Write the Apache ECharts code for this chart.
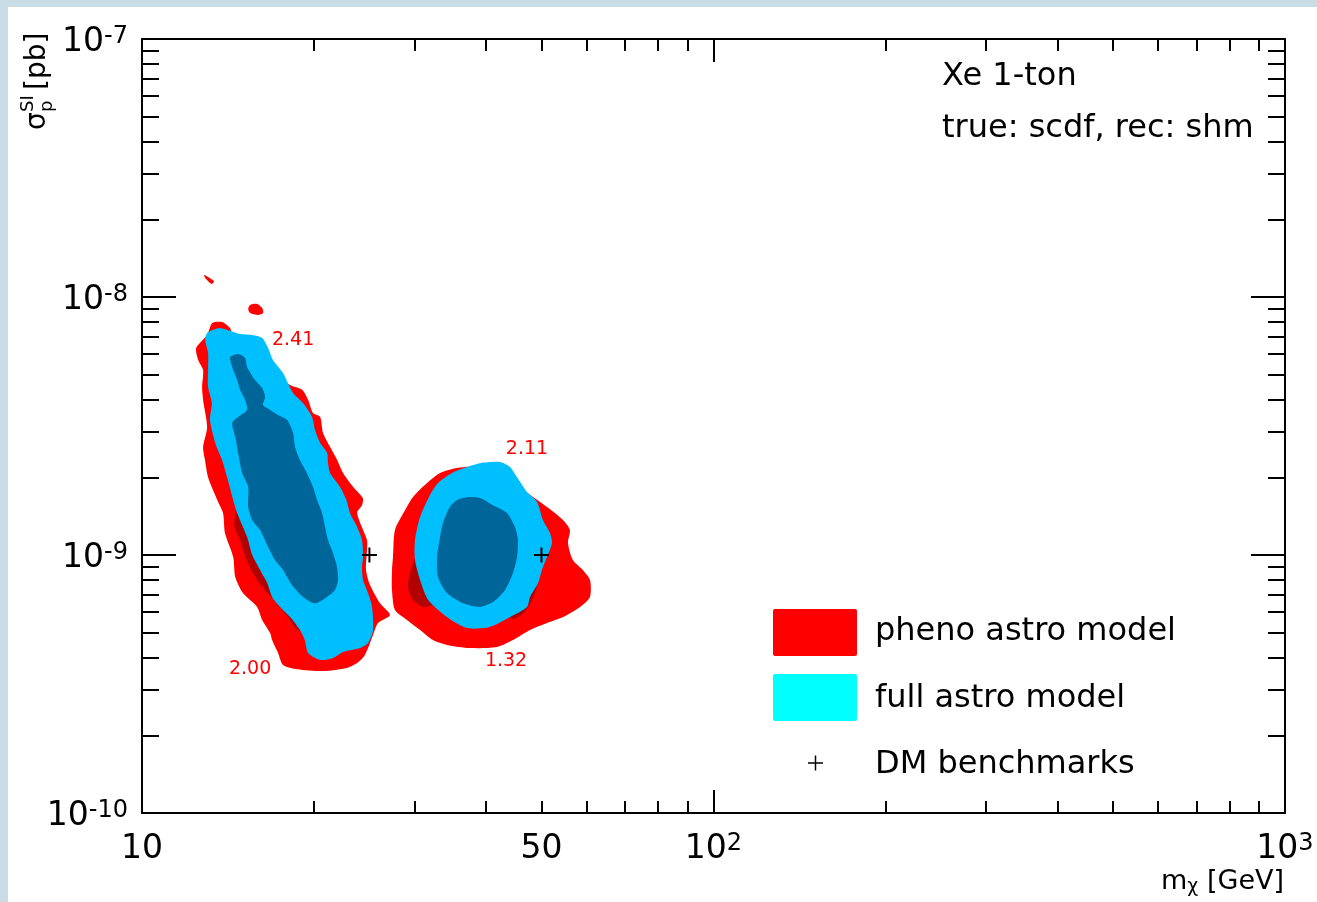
<!DOCTYPE html>
<html>
<head>
<meta charset="utf-8">
<title>Xe 1-ton: true scdf, rec shm</title>
<script src="https://cdn.jsdelivr.net/npm/echarts@6/dist/echarts.min.js"></script>
<style>
  html, body { margin: 0; padding: 0; background: #ffffff; }
  #edgeTop { position: absolute; left: 0; top: 0; width: 1317px; height: 7px; background: #c9dbe5; }
  #edgeLeft { position: absolute; left: 0; top: 0; width: 8px; height: 902px; background: #c9dbe5; }
  #chart { position: absolute; left: 0; top: 0; width: 1317px; height: 902px; }
</style>
</head>
<body>
<div id="edgeTop"></div>
<div id="edgeLeft"></div>
<div id="chart"></div>
<script>
// ---- axis ticks (WIMP mass in GeV, SI cross-section in pb) ----
const massTicksMajor = [10, 100, 1000];
const massTicksMinor = [20, 30, 40, 50, 60, 70, 80, 90, 200, 300, 400, 500, 600, 700, 800, 900];
const massTickLabels = [10, 50, 100, 1000];
const xsecTicksMajor = [1e-10, 1e-9, 1e-8, 1e-7];
const xsecTicksMinor = [2e-10, 3e-10, 4e-10, 5e-10, 6e-10, 7e-10, 8e-10, 9e-10,
                        2e-9, 3e-9, 4e-9, 5e-9, 6e-9, 7e-9, 8e-9, 9e-9,
                        2e-8, 3e-8, 4e-8, 5e-8, 6e-8, 7e-8, 8e-8, 9e-8];

// ---- credible regions, [mass (GeV), sigma_p^SI (pb)] ----
// pheno astro model, outer region, low-mass solution
const phenoOuterLow = [
  [12.44, 6.34e-9], [13.0, 7.12e-9], [13.27, 7.93e-9], [13.81, 8.0e-9], [14.26, 7.58e-9], [14.38, 7.25e-9],
  [15.46, 6.51e-9], [16.62, 5.70e-9], [17.44, 4.90e-9], [18.16, 4.56e-9], [19.06, 4.37e-9], [19.53, 3.99e-9],
  [19.92, 3.55e-9], [20.5, 3.43e-9], [20.74, 2.97e-9], [21.34, 2.62e-9], [21.94, 2.34e-9], [22.48, 2.08e-9],
  [23.4, 1.84e-9], [24.35, 1.66e-9], [24.26, 1.56e-9], [23.79, 1.46e-9], [24.26, 1.28e-9], [24.76, 1.14e-9],
  [24.76, 1.05e-9], [24.66, 0.875e-9], [25.06, 0.765e-9], [26.09, 0.65e-9], [27.16, 0.585e-9], [25.88, 0.545e-9],
  [25.37, 0.49e-9], [24.55, 0.41e-9], [23.79, 0.381e-9], [22.84, 0.365e-9], [20.74, 0.355e-9], [18.7, 0.361e-9],
  [17.65, 0.375e-9], [17.3, 0.417e-9], [16.89, 0.468e-9], [16.76, 0.498e-9], [16.23, 0.56e-9], [15.9, 0.629e-9],
  [15.02, 0.712e-9], [14.56, 0.822e-9], [14.44, 0.982e-9], [13.97, 1.217e-9], [13.86, 1.455e-9], [13.54, 1.634e-9],
  [13.05, 2.0e-9], [12.89, 2.33e-9], [12.79, 2.62e-9], [13.0, 3.13e-9], [12.79, 3.99e-9], [12.74, 4.48e-9],
  [12.79, 5.21e-9], [12.54, 5.70e-9]
];
// pheno astro model, outer region, high-mass solution
const phenoOuterHigh = [
  [27.49, 0.982e-9], [27.71, 1.25e-9], [28.85, 1.49e-9], [29.8, 1.678e-9], [31.53, 1.901e-9], [33.23, 2.08e-9],
  [35.58, 2.174e-9], [38.0, 2.193e-9], [42.31, 2.04e-9], [48.33, 1.678e-9], [51.13, 1.535e-9], [54.53, 1.367e-9],
  [56.07, 1.25e-9], [55.63, 1.113e-9], [56.75, 0.956e-9], [59.07, 0.875e-9], [60.8, 0.80e-9], [60.8, 0.688e-9],
  [58.4, 0.629e-9], [54.53, 0.575e-9], [51.13, 0.545e-9], [47.75, 0.512e-9], [44.59, 0.468e-9], [41.79, 0.44e-9],
  [37.49, 0.436e-9], [34.17, 0.448e-9], [32.3, 0.468e-9], [30.66, 0.512e-9], [29.08, 0.56e-9], [27.71, 0.612e-9],
  [27.38, 0.732e-9], [27.38, 0.875e-9]
];
// pheno astro model, small isolated islands
const phenoIslandA = [[12.84, 1.217e-8], [13.36, 1.153e-8], [13.25, 1.123e-8], [12.94, 1.174e-8]];
const phenoIslandB = [[15.46, 9.31e-9], [15.9, 9.40e-9], [16.23, 9.07e-9], [16.29, 8.67e-9], [15.96, 8.52e-9],
                      [15.46, 8.67e-9], [15.34, 8.98e-9]];
// pheno astro model, inner region
const phenoInnerLow = [
  [13.97, 3.34e-9], [15.46, 4.77e-9], [18.16, 3.05e-9], [21.34, 1.367e-9], [23.12, 0.669e-9], [22.21, 0.512e-9],
  [18.75, 0.512e-9], [18.0, 0.575e-9], [17.3, 0.64e-9], [16.82, 0.688e-9], [16.23, 0.751e-9], [15.59, 0.86e-9],
  [15.15, 0.991e-9], [14.85, 1.143e-9], [14.5, 1.307e-9], [14.85, 1.953e-9]
];
const phenoInnerHigh = [
  [31.91, 1.367e-9], [30.16, 1.0e-9], [29.44, 0.852e-9], [29.2, 0.751e-9], [29.8, 0.669e-9], [31.03, 0.629e-9],
  [32.57, 0.64e-9], [39.03, 0.585e-9], [43.18, 0.601e-9], [44.41, 0.565e-9], [45.86, 0.58e-9], [47.17, 0.618e-9],
  [48.33, 0.681e-9], [49.32, 0.80e-9], [47.75, 1.25e-9], [39.03, 1.786e-9]
];
// full astro model, outer region
const fullOuterLow = [
  [13.0, 7.25e-9], [13.3, 7.45e-9], [13.7, 7.58e-9], [14.85, 7.19e-9], [15.59, 7.12e-9], [16.23, 6.93e-9],
  [16.62, 6.34e-9], [16.95, 5.70e-9], [17.65, 5.08e-9], [18.0, 4.64e-9], [18.38, 4.25e-9], [19.13, 3.88e-9],
  [19.84, 3.43e-9], [20.08, 3.05e-9], [20.5, 2.72e-9], [21.08, 2.49e-9], [21.16, 2.27e-9], [21.34, 2.08e-9],
  [22.21, 1.835e-9], [22.78, 1.634e-9], [23.12, 1.455e-9], [23.79, 1.284e-9], [24.26, 1.143e-9], [24.37, 0.982e-9],
  [24.26, 0.898e-9], [24.37, 0.80e-9], [24.86, 0.712e-9], [25.27, 0.629e-9], [25.37, 0.512e-9], [24.86, 0.456e-9],
  [24.07, 0.436e-9], [22.48, 0.421e-9], [21.59, 0.399e-9], [20.5, 0.392e-9], [19.53, 0.417e-9], [19.27, 0.468e-9],
  [18.9, 0.512e-9], [18.16, 0.575e-9], [17.44, 0.629e-9], [16.89, 0.688e-9], [16.56, 0.779e-9], [16.09, 0.875e-9],
  [15.59, 1.0e-9], [15.27, 1.174e-9], [14.67, 1.455e-9], [14.44, 1.634e-9], [14.09, 2.0e-9], [13.81, 2.33e-9],
  [13.43, 2.72e-9], [13.15, 3.34e-9], [13.25, 3.88e-9], [13.05, 4.48e-9], [13.05, 5.21e-9], [13.05, 6.07e-9],
  [12.9, 6.81e-9]
];
const fullOuterHigh = [
  [31.91, 1.709e-9], [32.96, 1.901e-9], [34.86, 2.08e-9], [37.04, 2.193e-9], [39.03, 2.27e-9], [42.31, 2.293e-9],
  [44.05, 2.193e-9], [45.31, 2.0e-9], [47.17, 1.755e-9], [49.12, 1.605e-9], [50.3, 1.367e-9], [51.74, 1.217e-9],
  [52.17, 1.113e-9], [51.13, 0.982e-9], [50.1, 0.875e-9], [49.32, 0.779e-9], [47.75, 0.688e-9], [47.17, 0.629e-9],
  [44.05, 0.575e-9], [40.57, 0.526e-9], [37.04, 0.521e-9], [34.17, 0.575e-9], [31.68, 0.669e-9], [30.66, 0.80e-9],
  [30.04, 0.956e-9], [30.04, 1.143e-9], [30.66, 1.404e-9]
];
// full astro model, inner region
const fullInnerLow = [
  [14.26, 5.85e-9], [14.73, 6.01e-9], [15.15, 5.80e-9], [15.27, 5.36e-9], [15.77, 4.77e-9], [16.23, 4.44e-9],
  [16.42, 4.10e-9], [16.29, 3.81e-9], [16.76, 3.65e-9], [17.3, 3.49e-9], [17.94, 3.34e-9], [18.38, 2.97e-9],
  [18.53, 2.62e-9], [18.9, 2.33e-9], [19.43, 2.08e-9], [19.92, 1.835e-9], [20.25, 1.634e-9], [20.66, 1.455e-9],
  [20.91, 1.284e-9], [21.16, 1.143e-9], [21.59, 1.018e-9], [21.94, 0.898e-9], [22.03, 0.80e-9], [21.76, 0.732e-9],
  [21.08, 0.688e-9], [20.08, 0.65e-9], [19.13, 0.688e-9], [18.3, 0.765e-9], [17.65, 0.875e-9], [17.09, 0.956e-9],
  [16.62, 1.074e-9], [16.09, 1.25e-9], [15.59, 1.367e-9], [15.34, 1.535e-9], [15.34, 1.835e-9], [14.97, 2.08e-9],
  [14.73, 2.49e-9], [14.56, 2.87e-9], [14.38, 3.25e-9], [14.73, 3.43e-9], [15.27, 3.65e-9], [15.15, 3.99e-9],
  [14.85, 4.36e-9], [14.67, 4.77e-9], [14.44, 5.21e-9], [14.26, 5.70e-9]
];
const fullInnerHigh = [
  [35.58, 1.634e-9], [37.2, 1.678e-9], [39.03, 1.663e-9], [41.13, 1.56e-9], [43.52, 1.455e-9], [44.94, 1.284e-9],
  [45.49, 1.143e-9], [45.31, 0.982e-9], [44.59, 0.852e-9], [43.18, 0.732e-9], [41.13, 0.657e-9], [39.03, 0.629e-9],
  [36.45, 0.65e-9], [34.17, 0.712e-9], [32.96, 0.822e-9], [32.83, 0.982e-9], [33.23, 1.174e-9], [33.63, 1.331e-9],
  [34.57, 1.535e-9]
];

// ---- DM benchmark points ----
const benchmarkMass = [25, 50];
const benchmarkXsec = [1e-9, 1e-9];

// ---- values annotated next to the regions ----
const annotationText = ['2.41', '2.00', '2.11', '1.32'];
const annotationMass = [18.38, 15.46, 47.17, 43.35];
const annotationXsec = [6.81e-9, 0.361e-9, 2.58e-9, 0.388e-9];

const legendNames = ['pheno astro model', 'full astro model', 'DM benchmarks'];

const FONT = "'DejaVu Sans', 'Liberation Sans', Arial, sans-serif";
const BLACK = '#000000';

function regionSeries(name, polygons, color, z) {
  return {
    type: 'custom', name, z, clip: true, silent: true,
    xAxisIndex: 0, yAxisIndex: 0,
    encode: { x: 0, y: 1 },
    data: polygons.map((p, i) => [p[0][0], p[0][1], i]),
    renderItem: (params, api) => {
      const poly = polygons[api.value(2)];
      return {
        type: 'polygon',
        shape: { points: poly.map(pt => api.coord(pt)), smooth: 0.25 },
        style: { fill: color, stroke: null }
      };
    }
  };
}

function massAxis(position, ticks, len, withLine, labels) {
  return {
    type: 'log', logBase: 10, min: 10, max: 1000, position,
    axisLine: { show: withLine, onZero: false, lineStyle: { color: BLACK, width: 2 } },
    axisTick: { show: true, inside: true, length: len, customValues: ticks, lineStyle: { color: BLACK, width: 2 } },
    axisLabel: labels || { show: false },
    splitLine: { show: false }, minorTick: { show: false }, minorSplitLine: { show: false },
    axisPointer: { show: false }
  };
}
function xsecAxis(position, ticks, len, withLine) {
  return {
    type: 'log', logBase: 10, min: 1e-10, max: 1e-7, position,
    axisLine: { show: withLine, onZero: false, lineStyle: { color: BLACK, width: 2 } },
    axisTick: { show: true, inside: true, length: len, customValues: ticks, lineStyle: { color: BLACK, width: 2 } },
    axisLabel: { show: false },
    splitLine: { show: false }, minorTick: { show: false }, minorSplitLine: { show: false },
    axisPointer: { show: false }
  };
}

const massLabels = {
  show: true, customValues: massTickLabels, margin: 19, color: BLACK,
  fontFamily: FONT, fontSize: 33,
  showMinLabel: true, showMaxLabel: true, hideOverlap: false,
  formatter: v => v >= 100 ? '{b|10}{s|' + Math.round(Math.log10(v)) + '}' : '{b|' + v + '}',
  rich: {
    b: { fontFamily: FONT, fontSize: 33, lineHeight: 34, color: BLACK },
    s: { fontFamily: FONT, fontSize: 24, lineHeight: 24, color: BLACK, verticalAlign: 'top' }
  }
};

const chart = echarts.init(document.getElementById('chart'), null, { renderer: 'canvas' });

chart.setOption({
  backgroundColor: 'transparent',
  animation: false,
  grid: { left: 142, top: 39, width: 1143, height: 774, containLabel: false, outerBoundsMode: 'none' },
  xAxis: [
    massAxis('bottom', massTicksMajor, 23, true, massLabels),
    massAxis('bottom', massTicksMinor, 12, false),
    massAxis('top', massTicksMajor, 23, true),
    massAxis('top', massTicksMinor, 12, false)
  ],
  yAxis: [
    xsecAxis('left', xsecTicksMajor, 34, true),
    xsecAxis('left', xsecTicksMinor, 17, false),
    xsecAxis('right', xsecTicksMajor, 34, true),
    xsecAxis('right', xsecTicksMinor, 17, false)
  ],
  series: [
    regionSeries('pheno astro model', [phenoOuterLow, phenoOuterHigh, phenoIslandA, phenoIslandB], '#ff0000', 2),
    regionSeries('pheno astro model (inner)', [phenoInnerLow, phenoInnerHigh], '#b30000', 3),
    regionSeries('full astro model', [fullOuterLow, fullOuterHigh], '#00bfff', 4),
    regionSeries('full astro model (inner)', [fullInnerLow, fullInnerHigh], '#006699', 5),
    {
      type: 'custom', name: 'DM benchmarks', z: 6, silent: true,
      xAxisIndex: 0, yAxisIndex: 0, encode: { x: 0, y: 1 },
      data: benchmarkMass.map((m, i) => [m, benchmarkXsec[i]]),
      renderItem: (params, api) => {
        const c = api.coord([api.value(0), api.value(1)]);
        const a = 7.5;
        return {
          type: 'group',
          children: [
            { type: 'line', shape: { x1: c[0] - a, y1: c[1], x2: c[0] + a, y2: c[1] }, style: { stroke: BLACK, lineWidth: 2 } },
            { type: 'line', shape: { x1: c[0], y1: c[1] - a, x2: c[0], y2: c[1] + a }, style: { stroke: BLACK, lineWidth: 2 } }
          ]
        };
      }
    },
    {
      type: 'custom', name: 'annotations', z: 7, silent: true,
      xAxisIndex: 0, yAxisIndex: 0, encode: { x: 0, y: 1 },
      data: annotationMass.map((m, i) => [m, annotationXsec[i], i]),
      renderItem: (params, api) => {
        const c = api.coord([api.value(0), api.value(1)]);
        return {
          type: 'text', x: c[0], y: c[1],
          style: {
            text: annotationText[api.value(2)], fill: '#ff0000',
            font: '19px ' + FONT, align: 'center', verticalAlign: 'middle'
          }
        };
      }
    },
    {
      // decade labels of the cross-section axis, placed just left of the frame
      type: 'custom', name: 'sigma labels', z: 8, silent: true, clip: false,
      xAxisIndex: 0, yAxisIndex: 0, encode: { x: 0, y: 1 },
      data: xsecTicksMajor.map(v => [10, v]),
      renderItem: (params, api) => {
        const c = api.coord([api.value(0), api.value(1)]);
        const e = Math.round(Math.log10(api.value(1)));
        return {
          type: 'text', x: c[0] - 14, y: c[1] + 3,
          style: {
            text: '{b|10}{s|' + e + '}', align: 'right', verticalAlign: 'middle',
            rich: {
              b: { fontFamily: FONT, fontSize: 33, lineHeight: 34, fill: BLACK },
              s: { fontFamily: FONT, fontSize: 24, lineHeight: 24, fill: BLACK, verticalAlign: 'top' }
            }
          }
        };
      }
    }
  ],
  graphic: [
    // plot annotations
    { type: 'text', x: 942, y: 77, z: 20, style: { text: 'Xe 1-ton', font: '32px ' + FONT, fill: BLACK, align: 'left', verticalAlign: 'middle' } },
    { type: 'text', x: 942, y: 129, z: 20, style: { text: 'true: scdf, rec: shm', font: '32px ' + FONT, fill: BLACK, align: 'left', verticalAlign: 'middle' } },
    // legend
    { type: 'rect', z: 20, shape: { x: 773, y: 609, width: 84, height: 47, r: 2 }, style: { fill: '#ff0000' } },
    { type: 'rect', z: 20, shape: { x: 773, y: 674, width: 84, height: 47, r: 2 }, style: { fill: '#00ffff' } },
    { type: 'line', z: 20, shape: { x1: 808, y1: 763, x2: 823, y2: 763 }, style: { stroke: BLACK, lineWidth: 1.5 } },
    { type: 'line', z: 20, shape: { x1: 815.5, y1: 755.5, x2: 815.5, y2: 770.5 }, style: { stroke: BLACK, lineWidth: 1.5 } },
    { type: 'text', x: 875, y: 632, z: 20, style: { text: legendNames[0], font: '32px ' + FONT, fill: BLACK, align: 'left', verticalAlign: 'middle' } },
    { type: 'text', x: 875, y: 699, z: 20, style: { text: legendNames[1], font: '32px ' + FONT, fill: BLACK, align: 'left', verticalAlign: 'middle' } },
    { type: 'text', x: 875, y: 765, z: 20, style: { text: legendNames[2], font: '32px ' + FONT, fill: BLACK, align: 'left', verticalAlign: 'middle' } },
    // x-axis title
    {
      type: 'text', x: 1284, y: 882, z: 20,
      style: {
        text: '{a|m}{c|\u03c7}{a| [GeV]}', align: 'right', verticalAlign: 'middle',
        rich: {
          a: { fontFamily: FONT, fontSize: 27, lineHeight: 30, fill: BLACK },
          c: { fontFamily: FONT, fontSize: 19, lineHeight: 19, fill: BLACK, verticalAlign: 'bottom' }
        }
      }
    },
    // y-axis title, reading upwards
    {
      type: 'group', x: 38, y: 130, rotation: Math.PI / 2, z: 20,
      children: [
        { type: 'text', x: 0, y: 0, style: { text: '\u03c3', font: '28px ' + FONT, fill: BLACK, align: 'left', verticalAlign: 'middle' } },
        { type: 'text', x: 18, y: -10, style: { text: 'SI', font: '18px ' + FONT, fill: BLACK, align: 'left', verticalAlign: 'middle' } },
        { type: 'text', x: 18, y: 9, style: { text: 'p', font: '18px ' + FONT, fill: BLACK, align: 'left', verticalAlign: 'middle' } },
        { type: 'text', x: 40, y: 0, style: { text: '[pb]', font: '28px ' + FONT, fill: BLACK, align: 'left', verticalAlign: 'middle' } }
      ]
    }
  ]
});
</script>
</body>
</html>
